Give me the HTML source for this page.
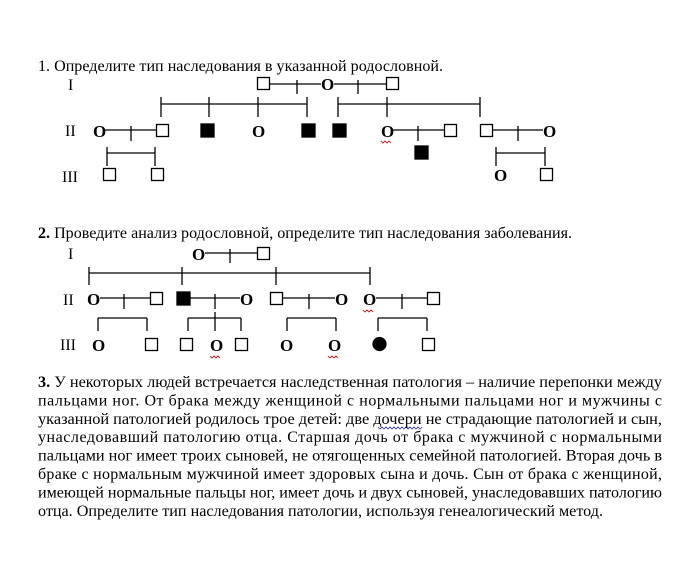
<!DOCTYPE html>
<html><head><meta charset="utf-8"><style>
html,body{margin:0;padding:0;background:#fff;}
svg{display:block;}
text{font-family:"Liberation Serif",serif;fill:#000;}
.o{font-weight:bold;font-size:17px;}
.t{font-size:15.5px;}
.p{font-size:16px;}
.l{font-size:16px;}
</style></head><body>
<svg width="683" height="568" viewBox="0 0 683 568" xmlns="http://www.w3.org/2000/svg">
<g stroke="#000" stroke-width="1.3" fill="none">
<rect x="257.5" y="77.5" width="12" height="12"/>
<line x1="270" y1="84" x2="321" y2="84"/><line x1="297" y1="80" x2="297" y2="94"/>
<line x1="334" y1="84" x2="386" y2="84"/><line x1="358" y1="80" x2="358" y2="94"/>
<rect x="386.5" y="77.5" width="12" height="12"/>
<line x1="161" y1="104" x2="307" y2="104"/>
<line x1="161" y1="97" x2="161" y2="117"/><line x1="209" y1="97" x2="209" y2="117"/>
<line x1="258" y1="97" x2="258" y2="117"/><line x1="307" y1="97" x2="307" y2="117"/>
<line x1="338" y1="104" x2="480" y2="104"/>
<line x1="338" y1="97" x2="338" y2="117"/><line x1="387" y1="97" x2="387" y2="117"/><line x1="480" y1="97" x2="480" y2="117"/>
<line x1="105" y1="130" x2="156" y2="130"/><line x1="131" y1="126" x2="131" y2="141"/>
<rect x="156.5" y="124.5" width="12" height="12"/>
<rect x="201" y="124" width="13" height="13" fill="#000"/>
<rect x="302" y="124" width="13" height="13" fill="#000"/>
<rect x="333" y="124" width="13" height="13" fill="#000"/>
<line x1="393" y1="130" x2="444" y2="130"/><line x1="418" y1="126" x2="418" y2="141"/>
<rect x="444.5" y="124.5" width="12" height="12"/>
<rect x="480.5" y="124.5" width="12" height="12"/>
<line x1="493" y1="130" x2="543" y2="130"/><line x1="518" y1="126" x2="518" y2="141"/>
<rect x="415" y="146" width="13" height="13" fill="#000"/>
<line x1="107" y1="153" x2="155" y2="153"/><line x1="107" y1="147" x2="107" y2="166"/><line x1="155" y1="147" x2="155" y2="166"/>
<line x1="496" y1="153" x2="545" y2="153"/><line x1="496" y1="147" x2="496" y2="166"/><line x1="545" y1="147" x2="545" y2="166"/>
<rect x="103.5" y="168.5" width="12" height="12"/>
<rect x="151.5" y="168.5" width="12" height="12"/>
<rect x="540.5" y="168.5" width="12" height="12"/>

<line x1="205" y1="253" x2="257" y2="253"/><line x1="230" y1="249" x2="230" y2="263"/>
<rect x="257.5" y="247.5" width="12" height="12"/>
<line x1="89" y1="273" x2="370" y2="273"/>
<line x1="89" y1="267" x2="89" y2="285"/><line x1="182" y1="267" x2="182" y2="285"/>
<line x1="276" y1="267" x2="276" y2="285"/><line x1="370" y1="267" x2="370" y2="285"/>
<line x1="100" y1="298" x2="150" y2="298"/><line x1="124" y1="294" x2="124" y2="309"/>
<rect x="150.5" y="292.5" width="12" height="12"/>
<rect x="177" y="292" width="13" height="13" fill="#000"/>
<line x1="190" y1="298" x2="240" y2="298"/><line x1="215" y1="294" x2="215" y2="309"/>
<rect x="270.5" y="292.5" width="12" height="12"/>
<line x1="283" y1="298" x2="335" y2="298"/><line x1="309" y1="294" x2="309" y2="309"/>
<line x1="376" y1="298" x2="427" y2="298"/><line x1="402" y1="294" x2="402" y2="309"/>
<rect x="427.5" y="292.5" width="12" height="12"/>
<line x1="98" y1="318" x2="147" y2="318"/><line x1="98" y1="318" x2="98" y2="331"/><line x1="147" y1="318" x2="147" y2="331"/>
<line x1="188" y1="318" x2="241" y2="318"/><line x1="188" y1="318" x2="188" y2="331"/><line x1="215" y1="312" x2="215" y2="331"/><line x1="241" y1="318" x2="241" y2="331"/>
<line x1="287" y1="318" x2="336" y2="318"/><line x1="287" y1="318" x2="287" y2="331"/><line x1="336" y1="318" x2="336" y2="331"/>
<line x1="378" y1="318" x2="427" y2="318"/><line x1="378" y1="318" x2="378" y2="331"/><line x1="427" y1="318" x2="427" y2="331"/>
<rect x="145.5" y="338.5" width="12" height="12"/>
<rect x="180.5" y="338.5" width="12" height="12"/>
<rect x="235.5" y="338.5" width="12" height="12"/>
<rect x="422.5" y="338.5" width="12" height="12"/>
<circle cx="379.5" cy="344" r="6.5" fill="#000"/>
</g>
<g stroke="#c00" stroke-width="0.8" fill="none">
<path d="M381 141 l2 2 l2 -2 l2 2 l2 -2 l2 2"/>
<path d="M363 310 l2 2 l2 -2 l2 2 l2 -2 l2 2"/>
<path d="M210 356 l2 2 l2 -2 l2 2 l2 -2 l2 2"/>
<path d="M328 356 l2 2 l2 -2 l2 2 l2 -2 l2 2"/>
</g>
<path d="M378 427 l2 2 l2 -2 l2 2 l2 -2 l2 2 l2 -2 l2 2 l2 -2 l2 2 l2 -2 l2 2 l2 -2 l2 2 l2 -2 l2 2 l2 -2 l2 2 l2 -2 l2 2 l2 -2 l2 2 l2 -2" stroke="#33a" stroke-width="0.8" fill="none"/>

<text class="t" x="38" y="71" textLength="405" lengthAdjust="spacingAndGlyphs">1. Определите тип наследования в указанной родословной.</text>
<text class="l" x="68" y="90">I</text>
<text class="l" x="65" y="136">II</text>
<text class="l" x="62" y="182">III</text>
<text class="o" x="93" y="137">O</text>
<text class="o" x="252" y="137">O</text>
<text class="o" x="321" y="90">O</text>
<text class="o" x="381" y="137">O</text>
<text class="o" x="543" y="137">O</text>
<text class="o" x="494" y="181">O</text>

<text class="t" x="38" y="238" textLength="534" lengthAdjust="spacingAndGlyphs"><tspan font-weight="bold">2.</tspan> Проведите анализ родословной, определите тип наследования заболевания.</text>
<text class="l" x="68" y="259">I</text>
<text class="l" x="63" y="305">II</text>
<text class="l" x="60" y="350">III</text>
<text class="o" x="192" y="260">O</text>
<text class="o" x="87" y="305">O</text>
<text class="o" x="240" y="305">O</text>
<text class="o" x="335" y="305">O</text>
<text class="o" x="363" y="305">O</text>
<text class="o" x="92" y="351">O</text>
<text class="o" x="210" y="351">O</text>
<text class="o" x="280" y="351">O</text>
<text class="o" x="328" y="351">O</text>

<text class="p" x="38" y="387" textLength="624" lengthAdjust="spacingAndGlyphs"><tspan font-weight="bold">3.</tspan> У некоторых людей встречается наследственная патология – наличие перепонки между</text>
<text class="p" x="38" y="405.4" textLength="624" lengthAdjust="spacing">пальцами ног. От брака между женщиной с нормальными пальцами ног и мужчины с</text>
<text class="p" x="38" y="423.8" textLength="624" lengthAdjust="spacingAndGlyphs">указанной патологией родилось трое детей: две дочери не страдающие патологией и сын,</text>
<text class="p" x="38" y="442.2" textLength="624" lengthAdjust="spacing">унаследовавший патологию отца. Старшая дочь от брака с мужчиной с нормальными</text>
<text class="p" x="38" y="460.6" textLength="624" lengthAdjust="spacingAndGlyphs">пальцами ног имеет троих сыновей, не отягощенных семейной патологией. Вторая дочь в</text>
<text class="p" x="38" y="479" textLength="624" lengthAdjust="spacing">браке с нормальным мужчиной имеет здоровых сына и дочь. Сын от брака с женщиной,</text>
<text class="p" x="38" y="497.4" textLength="624" lengthAdjust="spacingAndGlyphs">имеющей нормальные пальцы ног, имеет дочь и двух сыновей, унаследовавших патологию</text>
<text class="p" x="38" y="515.8" textLength="565" lengthAdjust="spacingAndGlyphs">отца. Определите тип наследования патологии, используя генеалогический метод.</text>
</svg>
</body></html>
